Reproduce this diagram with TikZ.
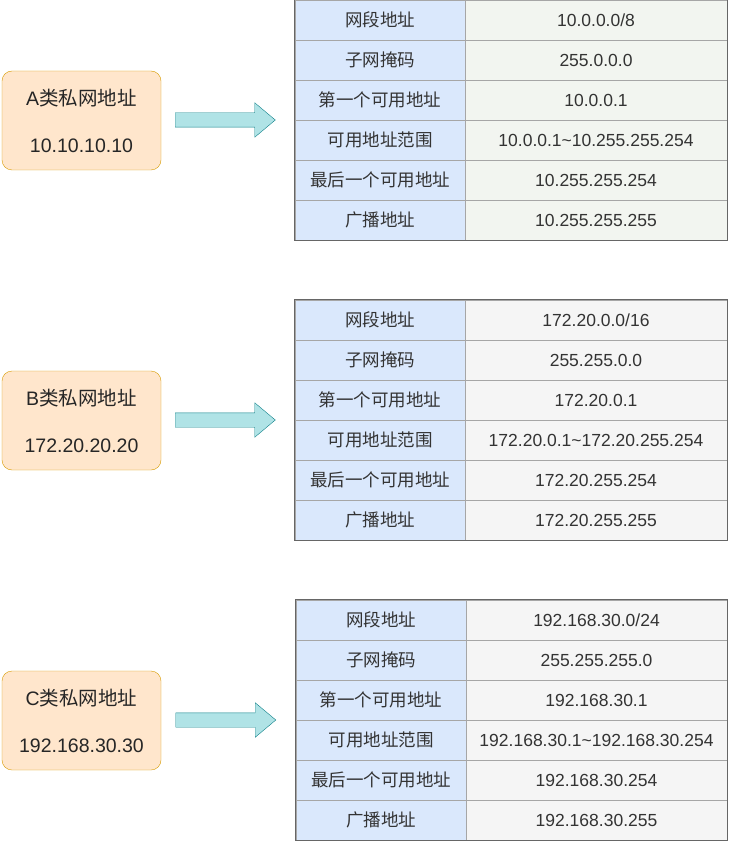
\documentclass[tikz,border=0pt]{standalone}
\usepackage{fontspec}
\setmainfont{Liberation Sans}
\newfontfamily\cjk{Noto Sans CJK SC}
\usetikzlibrary{shapes.arrows}
\definecolor{boxfill}{HTML}{FFE6CC}
\definecolor{boxdraw}{HTML}{D79B00}
\definecolor{arrfill}{HTML}{B0E3E6}
\definecolor{arrdraw}{HTML}{0E8088}
\definecolor{keyfill}{HTML}{DAE8FC}
\definecolor{valfillA}{HTML}{F2F5F0}
\definecolor{valfill}{HTML}{F5F5F5}
\definecolor{cellline}{HTML}{A6A6A6}
\definecolor{frameline}{HTML}{666666}
\definecolor{textgray}{HTML}{333333}

\begin{document}
\begin{tikzpicture}[
          x=1pt, y=-1pt,
          ipbox/.style={rectangle, rounded corners=10pt, draw=boxdraw,
                        fill=boxfill, minimum width=159pt,
                        minimum height=99pt, align=center, text=black!85,
                        font=\fontsize{19.5}{47}\selectfont},
          keycell/.style={rectangle, draw=cellline, fill=keyfill,
                          minimum width=170pt, minimum height=40pt,
                          inner sep=0pt, text=textgray,
                          font=\cjk\fontsize{17.5}{20}\selectfont},
          valcell/.style={rectangle, draw=cellline, fill=valfill,
                          minimum width=262pt, minimum height=40pt,
                          inner sep=0pt, text=textgray,
                          font=\fontsize{17.5}{20}\selectfont},
          blockarr/.style={single arrow, draw=arrdraw, fill=arrfill,
                           minimum height=100pt, minimum width=34pt,
                           single arrow head extend=10pt,
                           single arrow tip angle=80, inner sep=7pt},
          tframe/.style={draw=frameline, line width=0.8pt}
        ]
          \useasboundingbox (0,0) rectangle (728,842);
          % class A
          \node[ipbox] (boxA) at (81.5,120.5) {A{\cjk 类私网地址}\\10.10.10.10};
          \node[blockarr] (arrA) at (221,120) {};
          \foreach \k/\v [count=\i] in {网段地址/{10.0.0.0/8}, 子网掩码/{255.0.0.0},
              第一个可用地址/{10.0.0.1}, 可用地址范围/{10.0.0.1\textasciitilde 10.255.255.254},
              最后一个可用地址/{10.255.255.254}, 广播地址/{10.255.255.255}} {
            \node[keycell] (kA\i) at (380,-20+40*\i) {\k};
            \node[valcell, fill=valfillA] (vA\i) at (596,-20+40*\i) {\v};
          }
          \draw[tframe] (kA1.north west) rectangle (vA6.south east);
          % class B
          \node[ipbox] (boxB) at (81.5,420.5) {B{\cjk 类私网地址}\\172.20.20.20};
          \node[blockarr] (arrB) at (221,420) {};
          \foreach \k/\v [count=\i] in {网段地址/{172.20.0.0/16}, 子网掩码/{255.255.0.0},
              第一个可用地址/{172.20.0.1}, 可用地址范围/{172.20.0.1\textasciitilde 172.20.255.254},
              最后一个可用地址/{172.20.255.254}, 广播地址/{172.20.255.255}} {
            \node[keycell] (kB\i) at (380,280+40*\i) {\k};
            \node[valcell] (vB\i) at (596,280+40*\i) {\v};
          }
          \draw[tframe] (kB1.north west) rectangle (vB6.south east);
          % class C
          \node[ipbox] (boxC) at (81.5,720.5) {C{\cjk 类私网地址}\\192.168.30.30};
          \node[blockarr] (arrC) at (221.5,720) {};
          \foreach \k/\v [count=\i] in {网段地址/{192.168.30.0/24}, 子网掩码/{255.255.255.0},
              第一个可用地址/{192.168.30.1}, 可用地址范围/{192.168.30.1\textasciitilde 192.168.30.254},
              最后一个可用地址/{192.168.30.254}, 广播地址/{192.168.30.255}} {
            \node[keycell] (kC\i) at (381,580+40*\i) {\k};
            \node[valcell, minimum width=261pt] (vC\i) at (596.5,580+40*\i) {\v};
          }
          \draw[tframe] (kC1.north west) rectangle (vC6.south east);
        \end{tikzpicture}
\end{document}
